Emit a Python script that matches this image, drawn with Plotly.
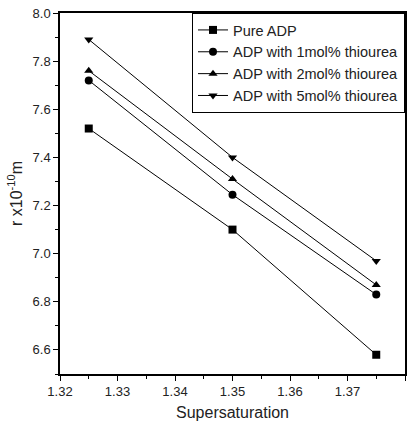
import plotly.graph_objects as go

supersat = [1.325, 1.35, 1.375]
pure = [7.52, 7.10, 6.58]
th1 = [7.72, 7.245, 6.83]
th2 = [7.76, 7.31, 6.87]
th5 = [7.89, 7.40, 6.97]
names = ["Pure ADP", "ADP with 1mol% thiourea", "ADP with 2mol% thiourea", "ADP with 5mol% thiourea"]
symbols = ["square", "circle", "triangle-up", "triangle-down"]

fig = go.Figure()
for y, n, s in zip([pure, th1, th2, th5], names, symbols):
    fig.add_trace(go.Scatter(x=supersat, y=y, name=n, mode="lines+markers",
                             line=dict(color="black", width=1),
                             marker=dict(symbol=s, color="black", size=8)))

fig.update_layout(
    width=413, height=425,
    margin=dict(l=60, r=6, t=8, b=51),
    plot_bgcolor="white", paper_bgcolor="white",
    font=dict(family="Liberation Sans, Arial, sans-serif", color="#222", size=13),
    legend=dict(x=1, y=1, xanchor="right", yanchor="top",
                bordercolor="black", borderwidth=1, bgcolor="white",
                font=dict(size=14.5), tracegroupgap=0, itemwidth=30),
    showlegend=True,
)
fig.update_xaxes(range=[1.32, 1.38], dtick=0.01, tickformat=".2f",
                 showline=True, linecolor="black", linewidth=1.5, mirror=True,
                 ticks="outside", ticklen=5, tickcolor="black", showgrid=False, zeroline=False,
                 minor=dict(dtick=0.005, ticks="outside", ticklen=3, tickcolor="black"),
                 title=dict(text="Supersaturation", font=dict(size=16), standoff=8))
fig.update_yaxes(range=[6.5, 8.0], dtick=0.2, tick0=6.6, tickformat=".1f",
                 showline=True, linecolor="black", linewidth=1.5, mirror=True,
                 ticks="outside", ticklen=5, tickcolor="black", showgrid=False, zeroline=False,
                 minor=dict(dtick=0.1, ticks="outside", ticklen=3, tickcolor="black"),
                 title=dict(text="r x10<sup>-10</sup>m", font=dict(size=16), standoff=6))

fig.write_html("out.html")
